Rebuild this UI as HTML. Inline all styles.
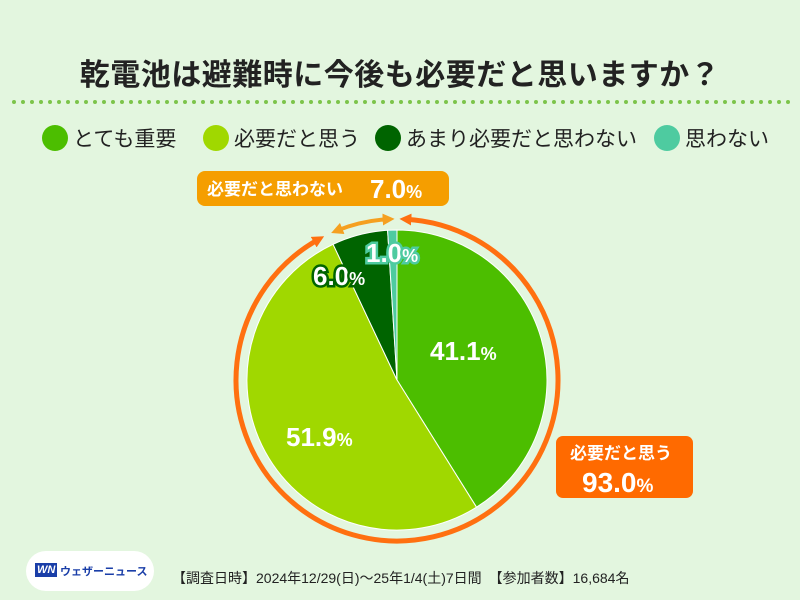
<!DOCTYPE html>
<html><head><meta charset="utf-8"><style>
body{margin:0;width:800px;height:600px;background:#e3f6df;font-family:"Liberation Sans","Noto Sans CJK JP",sans-serif;position:relative;overflow:hidden}
.t{position:absolute;left:0;width:800px;top:50px;text-align:center;font-size:30px;font-weight:bold;color:#222;letter-spacing:0.5px}
.leg{position:absolute;top:123px;font-size:21px;color:#222;display:flex;align-items:center;white-space:nowrap}
.leg i{display:inline-block;width:26px;height:26px;border-radius:50%;margin-right:5px}
.foot{position:absolute;left:172px;top:568px;font-size:14px;color:#222}
.logo{position:absolute;left:26px;top:551px;width:128px;height:40px;background:#fff;border-radius:20px}
</style></head><body>
<div class="t">乾電池は避難時に今後も必要だと思いますか？</div>
<svg style="position:absolute;left:0;top:0" width="800" height="600">
<line x1="14" y1="102" x2="790" y2="102" stroke="#7cc44a" stroke-width="4" stroke-dasharray="0 9" stroke-linecap="round"/>
<defs>
<marker id="b1" markerWidth="12" markerHeight="12" refX="6" refY="6" orient="auto" markerUnits="userSpaceOnUse" viewBox="0 0 12 12"><path d="M12,0 L0,6 L12,12z" fill="#ff7010"/></marker>
<marker id="b2" markerWidth="12" markerHeight="12" refX="6" refY="6" orient="auto" markerUnits="userSpaceOnUse" viewBox="0 0 12 12"><path d="M12,0 L0,6 L12,12z" fill="#f5a020"/></marker>
<marker id="c1" markerWidth="12" markerHeight="12" refX="6" refY="6" orient="auto" markerUnits="userSpaceOnUse" viewBox="0 0 12 12"><path d="M0,0 L12,6 L0,12z" fill="#ff7010"/></marker>
<marker id="c2" markerWidth="12" markerHeight="12" refX="6" refY="6" orient="auto" markerUnits="userSpaceOnUse" viewBox="0 0 12 12"><path d="M0,0 L12,6 L0,12z" fill="#f5a020"/></marker>
</defs>
<path d="M405.4,219.2 A161,161 0 1 1 318.9,239.2" fill="none" stroke="#ff7010" stroke-width="5" marker-start="url(#b1)" marker-end="url(#c1)"/>
<path d="M336.7,230.7 A161,161 0 0 1 388.6,219.2" fill="none" stroke="#f5a020" stroke-width="4" marker-start="url(#b2)" marker-end="url(#c2)"/>
<g stroke="#fff" stroke-width="1">
<path d="M397,380 L397,230 A150,150 0 0 1 476.5,507.2Z" fill="#4cbe00"/>
<path d="M397,380 L476.5,507.2 A150,150 0 1 1 333.1,244.3Z" fill="#a0d800"/>
<path d="M397,380 L333.1,244.3 A150,150 0 0 1 387.6,230.3Z" fill="#006400"/>
<path d="M397,380 L387.6,230.3 A150,150 0 0 1 397,230Z" fill="#4ecba0"/>
</g>
<g font-family="Liberation Sans, sans-serif" font-weight="bold">
<text x="430" y="360" font-size="26" fill="#fff">41.1<tspan font-size="18">%</tspan></text>
<text x="286" y="446" font-size="26" fill="#fff">51.9<tspan font-size="18">%</tspan></text>
<text x="313" y="285" font-size="26" fill="#fff" stroke="#006400" stroke-width="5" paint-order="stroke">6.0<tspan font-size="18">%</tspan></text>
<text x="366" y="262" font-size="26" fill="#fff" stroke="#4ecba0" stroke-width="5" paint-order="stroke">1.0<tspan font-size="18">%</tspan></text>
</g>
<rect x="197" y="171" width="252" height="35" rx="8" fill="#f59e00"/>
<text x="207" y="195" font-size="17" fill="#fff" font-weight="bold" font-family="Liberation Sans, Noto Sans CJK JP, sans-serif">必要だと思わない</text>
<text x="370" y="198" font-size="26" fill="#fff" font-weight="bold" font-family="Liberation Sans, sans-serif">7.0<tspan font-size="18">%</tspan></text>
<rect x="556" y="436" width="137" height="62" rx="7" fill="#ff6a00"/>
<text x="570" y="459" font-size="17" fill="#fff" font-weight="bold" font-family="Liberation Sans, Noto Sans CJK JP, sans-serif">必要だと思う</text>
<text x="582" y="492" font-size="28" fill="#fff" font-weight="bold" font-family="Liberation Sans, sans-serif">93.0<tspan font-size="19">%</tspan></text>
</svg>
<div class="leg" style="left:42px"><i style="background:#4cbe00"></i>とても重要</div>
<div class="leg" style="left:203px"><i style="background:#a0d800"></i>必要だと思う</div>
<div class="leg" style="left:375px"><i style="background:#006400"></i>あまり必要だと思わない</div>
<div class="leg" style="left:654px"><i style="background:#4ecba0"></i>思わない</div>
<div class="logo"><span style="position:absolute;left:9px;top:12px;background:#1a3ea8;color:#fff;font-size:11px;font-weight:bold;padding:1px 2px;font-style:italic">WN</span><span style="position:absolute;left:34px;top:12px;color:#1a3ea8;font-size:11px;font-weight:bold;white-space:nowrap">ウェザーニュース</span></div>
<div class="foot">【調査日時】2024年12/29(日)～25年1/4(土)7日間　【参加者数】16,684名</div>
</body></html>
